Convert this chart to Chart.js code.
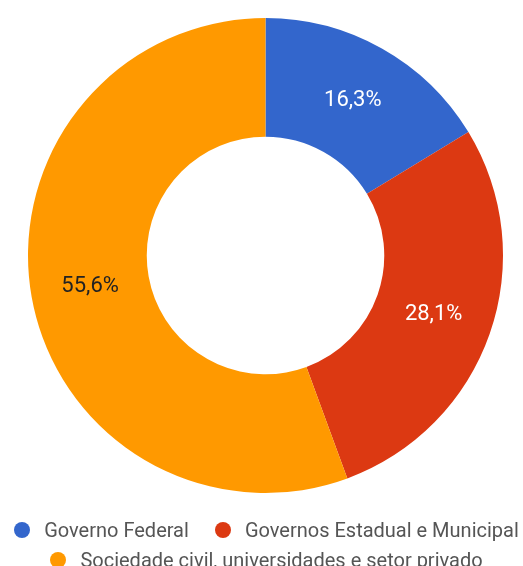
<!DOCTYPE html>
<html>
<head>
<meta charset="utf-8">
<script src="https://cdn.jsdelivr.net/npm/chart.js@4.4.1/dist/chart.umd.min.js"></script>
<style>
  html, body { margin: 0; padding: 0; background: #fff; }
  #wrap { position: relative; width: 523px; height: 566px; overflow: hidden; }
  #legend {
    position: absolute; left: 0; top: 515px; width: 533px;
    font: 20px Roboto, sans-serif; color: #555;
  }
  .row { display: flex; justify-content: center; align-items: center; height: 30px; }
  .item { display: flex; align-items: center; margin: 0 13px; white-space: nowrap; }
  .dot { width: 16px; height: 16px; border-radius: 50%; margin-right: 14px; }
</style>
</head>
<body>
<div id="wrap">
  <canvas id="pieChart" width="523" height="566"></canvas>
  <div id="legend"></div>
</div>
<script>
// shares by funding source (%)
const categories = ['Governo Federal', 'Governos Estadual e Municipal', 'Sociedade civil, universidades e setor privado'];
const shares = [16.3, 28.1, 55.6];
const sliceColors = ['#3366cc', '#dc3912', '#ff9900'];
const labelColors = ['#ffffff', '#ffffff', '#222222'];
const legendRows = [[0, 1], [2]];

// writes the percentage in the middle of each ring segment
const sliceLabels = {
    id: 'sliceLabels',
    afterDatasetsDraw(chart) {
        const ctx = chart.ctx;
        const meta = chart.getDatasetMeta(0);
        ctx.save();
        ctx.font = '22px Roboto';
        ctx.textAlign = 'center';
        ctx.textBaseline = 'middle';
        meta.data.forEach((arc, i) => {
            const pos = arc.tooltipPosition();
            ctx.fillStyle = labelColors[i];
            ctx.fillText(shares[i].toFixed(1).replace('.', ',') + '%', pos.x, pos.y);
        });
        ctx.restore();
    }
};

const chart = new Chart(document.getElementById('pieChart'), {
    type: 'doughnut',
    data: {
        labels: categories,
        datasets: [{
            data: shares,
            backgroundColor: sliceColors,
            borderWidth: 0
        }]
    },
    options: {
        responsive: false,
        animation: false,
        cutout: '50%',
        layout: { padding: { top: 18, bottom: 73, left: 28, right: 20 } },
        plugins: {
            legend: { display: false },
            tooltip: { enabled: false }
        }
    },
    plugins: [sliceLabels]
});

// legend built from the chart's own labels and colours
const legendEl = document.getElementById('legend');
legendRows.forEach(row => {
    const rowEl = document.createElement('div');
    rowEl.className = 'row';
    row.forEach(i => {
        const item = document.createElement('div');
        item.className = 'item';
        const dot = document.createElement('span');
        dot.className = 'dot';
        dot.style.background = chart.data.datasets[0].backgroundColor[i];
        item.appendChild(dot);
        item.appendChild(document.createTextNode(chart.data.labels[i]));
        rowEl.appendChild(item);
    });
    legendEl.appendChild(rowEl);
});
</script>
</body>
</html>
